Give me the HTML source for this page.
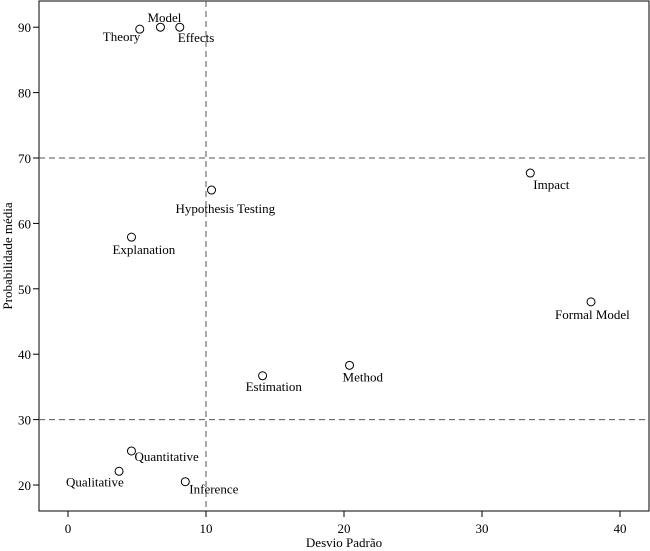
<!DOCTYPE html>
<html><head><meta charset="utf-8"><style>
body{margin:0;background:#fff;}
svg{display:block;font-family:"Liberation Serif",serif;}
</style></head><body>
<svg id="chart" width="650" height="551" viewBox="0 0 650 551" xmlns="http://www.w3.org/2000/svg"></svg>
<script>
const labels=["Theory","Model","Effects","Hypothesis Testing","Explanation","Impact","Formal Model","Estimation","Method","Quantitative","Qualitative","Inference"];
const xValues=[5.2,6.7,8.1,10.4,4.6,33.5,37.9,14.1,20.4,4.6,3.7,8.5];
const yValues=[89.7,90.0,90.0,65.1,57.9,67.7,48.0,36.7,38.3,25.2,22.1,20.5];
const xTicks=[0,10,20,30,40];
const yTicks=[20,30,40,50,60,70,80,90];
const refX=[10];
const refY=[30,70];
// label offsets (layout, not data)
const lblOff=[[-37,12,"start"],[-13,-5,"start"],[-2,15,"start"],[-36,23,"start"],[-19,17,"start"],[3,16,"start"],[-36,17,"start"],[-17,15,"start"],[-7,16,"start"],[3,10,"start"],[-53,15,"start"],[4,12,"start"]];
const svg=document.getElementById('chart');
const NS="http://www.w3.org/2000/svg";
const L=39,R=649,T=1,B=511;
const sx=v=>68+v*13.8;
const sy=v=>485-(v-20)*6.54;
function mk(tag,a,p){const e=document.createElementNS(NS,tag);for(const k in a)e.setAttribute(k,a[k]);(p||svg).appendChild(e);return e;}
const frame=mk('rect',{x:L,y:T,width:R-L,height:B-T,fill:'none',stroke:'#000','stroke-width':1});


refX.forEach(v=>{const l=mk('line',{x1:sx(v),x2:sx(v),y1:T,y2:B,stroke:'#555','stroke-dasharray':'6,4'});

});
refY.forEach(v=>{const l=mk('line',{x1:L,x2:R,y1:sy(v),y2:sy(v),stroke:'#555','stroke-dasharray':'6,4'});

});
xTicks.forEach(v=>{mk('line',{x1:sx(v),x2:sx(v),y1:B,y2:B+6,stroke:'#000'});
const t=mk('text',{x:sx(v),y:B+22,'text-anchor':'middle','font-size':13});t.textContent=v;

});
yTicks.forEach(v=>{mk('line',{x1:L-6,x2:L,y1:sy(v),y2:sy(v),stroke:'#000'});
const t=mk('text',{x:L-8,y:sy(v)+5,'text-anchor':'end','font-size':13});t.textContent=v;

});
const xt=mk('text',{x:344,y:547,'text-anchor':'middle','font-size':13});xt.textContent='Desvio Padrão';


const yt=mk('text',{x:0,y:0,'text-anchor':'middle','font-size':13,transform:'translate(12,256) rotate(-90)'});yt.textContent='Probabilidade média';


labels.forEach((lab,i)=>{
const cx=sx(xValues[i]),cy=sy(yValues[i]);
const c=mk('circle',{cx:cx,cy:cy,r:4,fill:'#fff',stroke:'#000','stroke-width':1});


const o=lblOff[i];
const t=mk('text',{x:cx+o[0],y:cy+o[1],'text-anchor':o[2],'font-size':13});t.textContent=lab;


});
</script>
</body></html>
